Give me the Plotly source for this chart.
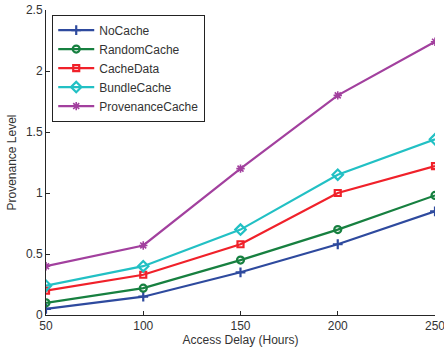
import plotly.graph_objects as go

delays = [50, 100, 150, 200, 250]
no_cache = [0.05, 0.15, 0.35, 0.58, 0.85]
random_cache = [0.10, 0.22, 0.45, 0.70, 0.98]
cache_data = [0.20, 0.33, 0.58, 1.00, 1.22]
bundle_cache = [0.24, 0.40, 0.70, 1.15, 1.44]
prov_cache = [0.40, 0.57, 1.20, 1.80, 2.24]

series = [
    ("NoCache", no_cache, "#2e4a9e", "cross-thin", 7, 2.2),
    ("RandomCache", random_cache, "#178040", "circle-open", 7, 2.2),
    ("CacheData", cache_data, "#f0212a", "square-open", 6, 2.2),
    ("BundleCache", bundle_cache, "#22c0c4", "diamond-open", 8, 2.2),
    ("ProvenanceCache", prov_cache, "#a2409e", "asterisk-open", 7, 1.6),
]

fig = go.Figure()
for name, ys, color, sym, size, mlw in series:
    fig.add_trace(go.Scatter(
        x=delays, y=ys, name=name, mode="lines+markers",
        line=dict(color=color, width=2.2),
        marker=dict(symbol=sym, size=size, color=color,
                    line=dict(color=color, width=mlw)),
    ))

font = "Liberation Sans, Arial, sans-serif"
fig.update_layout(
    width=444, height=354,
    margin=dict(l=46, r=9, t=10, b=39, autoexpand=False),
    paper_bgcolor="white", plot_bgcolor="white",
    font=dict(family=font, size=12, color="#333333"),
    showlegend=True,
    legend=dict(
        x=0.016, y=0.985, xanchor="left", yanchor="top",
        bgcolor="white", bordercolor="#222222", borderwidth=1,
        font=dict(size=12, color="#333333", family=font),
        itemwidth=36, tracegroupgap=0,
    ),
    xaxis=dict(
        range=[50, 250], tickvals=delays,
        showgrid=False, zeroline=False, automargin=False,
        showline=True, linecolor="#262626", linewidth=1,
        ticks="inside", ticklen=4, tickcolor="#262626",
        ticklabeloverflow="allow",
        title=dict(text="Access Delay (Hours)", standoff=2, font=dict(size=12)),
    ),
    yaxis=dict(
        range=[0, 2.5], tickvals=[0, 0.5, 1, 1.5, 2, 2.5],
        ticktext=["0", "0.5", "1", "1.5", "2", "2.5"],
        showgrid=False, zeroline=False, automargin=False,
        showline=True, linecolor="#262626", linewidth=1,
        ticks="inside", ticklen=4, tickcolor="#262626",
        ticklabeloverflow="allow",
        title=dict(text="Provenance Level", standoff=6, font=dict(size=12)),
    ),
)

fig.write_html("out.html")
